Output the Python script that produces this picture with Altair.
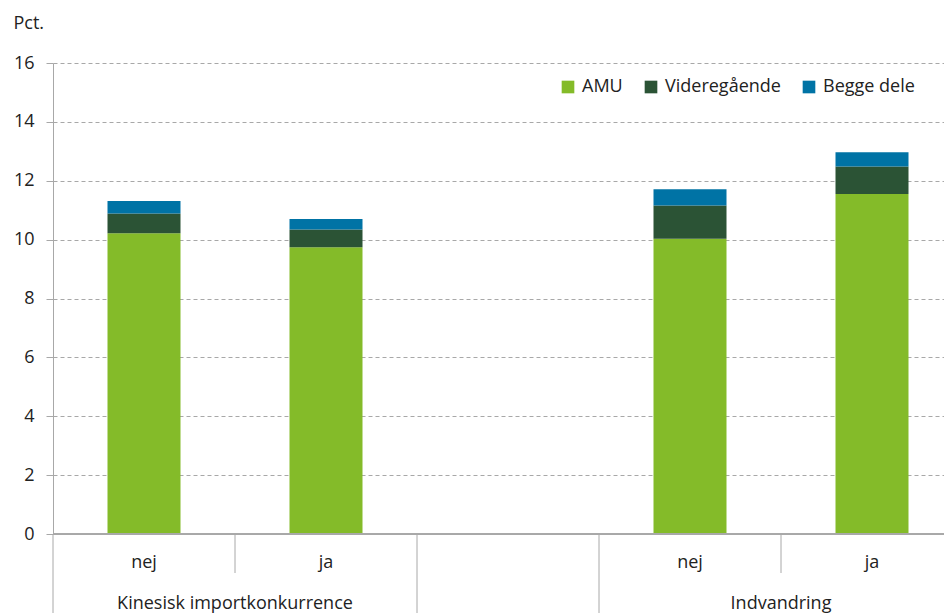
import altair as alt
import pandas as pd

# ---- data ----
slot_labels = ["nej", "ja", "", "nej", "ja"]
group_names = ["Kinesisk importkonkurrence", "", "Indvandring"]
group_slots = [[0, 1], [2], [3, 4]]
series = ["AMU", "Videregående", "Begge dele"]
colors = ["#84bb29", "#2b5335", "#0073a5"]
amu = [10.22, 9.74, 10.03, 11.55]
videregaaende = [0.67, 0.60, 1.13, 0.93]
begge = [0.42, 0.36, 0.55, 0.49]

# ---- tables ----
bar_slots = [i for i, s in enumerate(slot_labels) if s]
rows = []
for k, i in enumerate(bar_slots):
    for j, (name, vals) in enumerate(zip(series, [amu, videregaaende, begge])):
        rows.append({"pos": i + 0.5, "series": name, "value": vals[k], "order": j})
df = pd.DataFrame(rows)

lab_df = pd.DataFrame({"pos": [i + 0.5 for i in range(len(slot_labels))], "label": slot_labels})
grp_df = pd.DataFrame({
    "pos": [(g[0] + g[-1] + 1) / 2 for g in group_slots],
    "label": group_names,
})
short_seps = []
long_seps = [0]
for g in group_slots:
    for s in g[1:]:
        short_seps.append(s)
    long_seps.append(g[-1] + 1)
long_seps = [p for p in long_seps if p < len(slot_labels)]
short_df = pd.DataFrame({"pos": short_seps})
long_df = pd.DataFrame({"pos": long_seps})

W, H = 891, 471
slot_px = 182
xmax = W / slot_px
xscale = alt.Scale(domain=[0, xmax], nice=False, zero=False, padding=0)
grey = "#a8a8a8"
txt = "#222222"
FS = 18

bars = alt.Chart(df).mark_bar(size=73).encode(
    x=alt.X("pos:Q", scale=xscale, axis=None),
    y=alt.Y(
        "value:Q",
        stack="zero",
        scale=alt.Scale(domain=[0, 16], nice=False, padding=0),
        axis=alt.Axis(
            values=list(range(0, 17, 2)),
            grid=True,
            gridDash=[4, 3],
            gridColor=grey,
            gridWidth=1,
            domainColor=grey,
            tickColor=grey,
            tickSize=7,
            labelFontSize=FS,
            labelPadding=12,
            labelColor=txt,
            title="Pct.",
            titleAngle=0,
            titleAlign="left",
            titleBaseline="alphabetic",
            titleX=-40,
            titleY=-35,
            titleFontSize=FS,
            titleFontWeight="normal",
            titleColor=txt,
        ),
    ),
    color=alt.Color(
        "series:N",
        scale=alt.Scale(domain=series, range=colors),
        sort=series,
        legend=alt.Legend(
            title=None,
            orient="none",
            legendX=506,
            legendY=15,
            direction="horizontal",
            symbolType="square",
            symbolSize=160,
            symbolStrokeWidth=0,
            labelFontSize=FS,
            labelColor=txt,
            labelOffset=5,
            columnPadding=19,
        ),
    ),
    order=alt.Order("order:Q"),
)

baseline = alt.Chart(df).mark_rule(color=grey, strokeWidth=1).encode(y=alt.datum(0))

short_rules = alt.Chart(short_df).mark_rule(color=grey, strokeWidth=1).encode(
    x=alt.X("pos:Q", scale=xscale, axis=None), y=alt.value(H), y2=alt.value(H + 39)
)
long_rules = alt.Chart(long_df).mark_rule(color=grey, strokeWidth=1).encode(
    x=alt.X("pos:Q", scale=xscale, axis=None), y=alt.value(H), y2=alt.value(H + 95)
)
labels = alt.Chart(lab_df).mark_text(fontSize=FS, color=txt, baseline="alphabetic").encode(
    x=alt.X("pos:Q", scale=xscale, axis=None), y=alt.value(H + 34), text="label:N"
)
glabels = alt.Chart(grp_df).mark_text(fontSize=FS, color=txt, baseline="alphabetic").encode(
    x=alt.X("pos:Q", scale=xscale, axis=None), y=alt.value(H + 75), text="label:N"
)

chart = (
    alt.layer(bars, baseline, short_rules, long_rules, labels, glabels)
    .properties(
        width=W,
        height=H,
        autosize=alt.AutoSizeParams(type="none"),
        padding={"left": 45, "top": 55, "right": 0, "bottom": 80},
    )
    .configure(font="Open Sans")
    .configure_view(strokeWidth=0)
)

chart.save("out.html", embed_options={"renderer": "svg", "actions": False})
